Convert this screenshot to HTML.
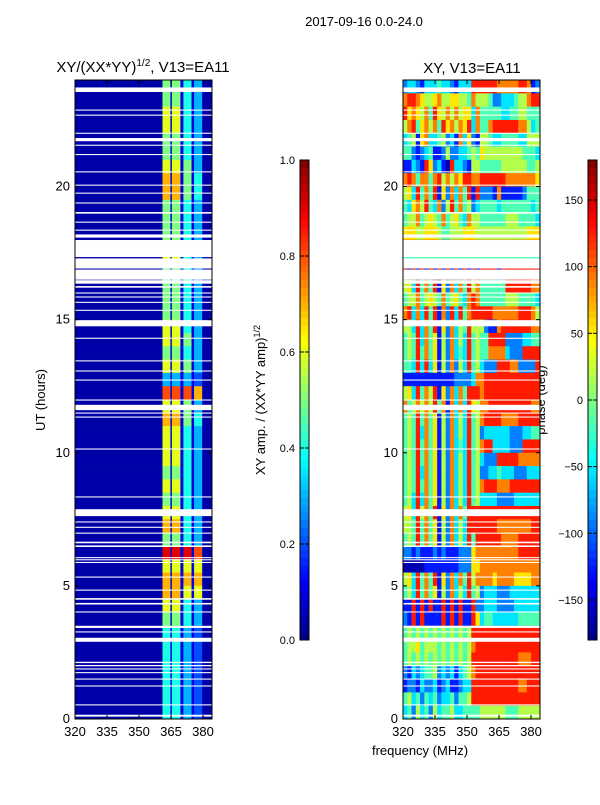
<!DOCTYPE html>
<html><head><meta charset="utf-8"><style>
body{margin:0;background:#fff;}
svg text{font-family:"Liberation Sans","DejaVu Sans",sans-serif;fill:#000;}
</style></head><body>
<svg id="fig" width="600" height="800" xmlns="http://www.w3.org/2000/svg">
<rect width="600" height="800" fill="#fff"/>
<text x="364" y="26" font-size="13" text-anchor="middle">2017-09-16 0.0-24.0</text>
<text x="143" y="72" font-size="15" text-anchor="middle">XY/(XX*YY)<tspan font-size="10" dy="-6">1/2</tspan><tspan dy="6">, V13=EA11</tspan></text>
<text x="472" y="73" font-size="15" text-anchor="middle">XY, V13=EA11</text>
<text x="420" y="755" font-size="13" text-anchor="middle">frequency (MHz)</text>
<text transform="translate(45,400) rotate(-90)" font-size="13" text-anchor="middle">UT (hours)</text>
<text transform="translate(265,400) rotate(-90)" font-size="13" text-anchor="middle">XY amp. / (XX*YY amp)<tspan font-size="9" dy="-5">1/2</tspan></text>
<text transform="translate(545,400) rotate(-90)" font-size="13" text-anchor="middle">phase (deg)</text>
<g id="layer"></g>
</svg>
<script>
// ---- data ----
const hourTicks=[0,5,10,15,20];
const freqTicks=[320,335,350,365,380];
const ampTicks=[0.0,0.2,0.4,0.6,0.8,1.0];
const phaseTicks=[-150,-100,-50,0,50,100,150];
// left panel frequency bin edges (MHz)
const ampBinEdges=[320,361,364.7,365.4,369.4,370.8,374.6,375.8,379.6,384.2];
// amplitude rows, top (23.5-24h) to bottom (0-0.5h); digit d -> d/10
const ampRows=["051514130","051514130","061614130","061614130","051514130","051514130","061615130","071715140","071715140","051514130","051514130","051514130","061614130","061614130","051514130","051514130","051514130","051514130","061614130","061615130","051514130","061615130","031313120","081818170","061615130","071715140","061614130","061614130","061614130","051514130","061614130","051514130","061614130","071714130","051514130","091919180","061616160","071717170","071716160","061614130","051514130","041413120","041413120","041413120","041413120","041413120","041413120","041413120"];
// phase rows, 2 MHz bins from 320 to 384, top to bottom; digit d -> phase bin
const phaseRows=["23321333433213338888887777788712","78876556755665547555422333455788","86765748657575663744444334455444","57846757486757683744788888877534","34516733452317362155433444433555","44212341125223345465555555554443","11321862310833215544444555555445","78747747857576887788888877777776","56384748162737481822217111112444","43675843725847452344443444444434","45574565474564375544444455544443","66655666544555666555555555555666","88888888888888888888888888888888","44444444444444444444444444444444","81818181818181818188881888888888","56384748162737485744444488888877","45574565474564378744444455544443","78373848172838478888877777788875","55383748162735485552117888888877","45483746152735384544888822223344","45484746152734384544777732228888","44383836152725384532228887722228","11111111111122223778888888888888","56384758162737488878888888888888","74575758471737386577888888888877","45484746152735384578888777788888","45483746152735384523333332223344","45484746152734384578833332228888","45484746152735384532228888877777","45483746152735384522334333222333","45484746152735384578887778888888","45383746152735384533332222333333","56385748162737488888888888888888","55484746152735388888887777777788","45484746152735384888888777788888","22121112121112226777777777788888","00000111111112226677777777777777","56384748162737485777767777666677","45384746152735384523332223333333","11818181181818118223332222333333","21818111181818118634433333344444","45454545454545458888888888888888","45564555454545457888888888888888","45454545454545458888888888877788","21323445232313457888888888888888","12213223123112338888888888877888","45342434233424458888888888888888","34253425344533444455555544455555"];
// flagged (white) intervals in hours: [start,end]
const flagged=[[23.55,23.72],[22.85,22.89],[22.66,22.7],[21.98,22.02],[21.7,21.82],[21.53,21.57],[21.18,21.22],[20.53,20.57],[20.03,20.07],[19.73,19.77],[19.36,19.4],[18.98,19.04],[18.64,18.68],[18.34,18.38],[18.08,18.2],[17.35,17.99],[16.92,17.3],[16.5,16.88],[16.35,16.48],[16.2,16.26],[15.98,16.02],[15.83,15.87],[15.63,15.67],[15.33,15.37],[14.75,14.98],[14.28,14.32],[13.43,13.47],[13.05,13.09],[12.71,12.75],[11.96,12.0],[11.6,11.8],[11.47,11.51],[11.32,11.36],[10.12,10.16],[8.32,8.36],[7.62,7.88],[7.38,7.42],[7.18,7.22],[6.96,7.0],[6.46,6.52],[6.6,6.66],[5.86,5.9],[5.96,6.0],[6.04,6.08],[5.31,5.35],[4.82,4.86],[4.3,4.36],[4.48,4.54],[4.0,4.04],[3.42,3.5],[3.25,3.29],[2.9,3.05],[2.1,2.15],[1.98,2.03],[1.86,1.9],[1.72,1.76],[1.48,1.52],[1.22,1.26],[0.51,0.55],[0.09,0.16]];

// ---- geometry ----
const NS="http://www.w3.org/2000/svg";
const layer=document.getElementById('layer');
const T=80,B=719,FMIN=320,FMAX=384.2,HMAX=24;
const panels=[{x0:75,x1:212},{x0:403,x1:540}];
function yOf(h){return B-(h/HMAX)*(B-T);}
function xOf(p,f){return p.x0+(f-FMIN)/(FMAX-FMIN)*(p.x1-p.x0);}
function jet(v){const c=t=>Math.round(255*Math.max(0,Math.min(1,t)));
 return `rgb(${c(1.5-Math.abs(4*v-3))},${c(1.5-Math.abs(4*v-2))},${c(1.5-Math.abs(4*v-1))})`;}
function mk(tag,attrs,parent){const e=document.createElementNS(NS,tag);for(const k in attrs)e.setAttribute(k,attrs[k]);(parent||layer).appendChild(e);return e;}
function ampVal(d){return d===0?0.04:d/10;}
function phaseVal(d){return (d+0.5)/10;}

// left heatmap
const gL=mk('g',{});


ampRows.forEach((row,i)=>{
 const hTop=HMAX-0.5*i,hBot=hTop-0.5;
 for(let c=0;c<row.length;c++){
  const xa=xOf(panels[0],ampBinEdges[c]),xb=xOf(panels[0],ampBinEdges[c+1]);
  const r=mk('rect',{x:xa,y:yOf(hTop),width:xb-xa+0.3,height:yOf(hBot)-yOf(hTop)+0.3,fill:jet(ampVal(+row[c]))},gL);
  
  
 }
});
// right heatmap
const gR=mk('g',{});


phaseRows.forEach((row,i)=>{
 const hTop=HMAX-0.5*i,hBot=hTop-0.5;
 for(let c=0;c<row.length;c++){
  const fa=FMIN+2*c,fb=Math.min(FMAX,fa+2);
  const xa=xOf(panels[1],fa),xb=xOf(panels[1],fb);
  const r=mk('rect',{x:xa,y:yOf(hTop),width:xb-xa+0.3,height:yOf(hBot)-yOf(hTop)+0.3,fill:jet(phaseVal(+row[c]))},gR);
  
  
 }
});
// flagged white lines
panels.forEach(p=>{
 flagged.forEach(([a,b])=>{
  const r=mk('rect',{x:p.x0,y:yOf(b),width:p.x1-p.x0,height:Math.max(1,yOf(a)-yOf(b)),fill:'#fff'});
  
  
 });
});
// axes
panels.forEach((p,pi)=>{
 const fr=mk('rect',{x:p.x0,y:T,width:p.x1-p.x0,height:B-T,fill:'none',stroke:'#000','stroke-width':1});
 
 
 hourTicks.forEach(h=>{const y=yOf(h);
  mk('line',{x1:p.x0,x2:p.x0+4,y1:y,y2:y,stroke:'#000'});
  mk('line',{x1:p.x1,x2:p.x1-4,y1:y,y2:y,stroke:'#000'});
  const t=mk('text',{x:p.x0-5,y:y+4,'font-size':13,'text-anchor':'end'});t.textContent=h;
  
  
 });
 freqTicks.forEach(f=>{const x=xOf(p,f);
  mk('line',{x1:x,x2:x,y1:B,y2:B-4,stroke:'#000'});
  mk('line',{x1:x,x2:x,y1:T,y2:T+4,stroke:'#000'});
  const t=mk('text',{x:x,y:B+17,'font-size':13,'text-anchor':'middle'});t.textContent=f;
  
  
 });
});
// colorbars
function colorbar(x,name,ticks,vmin,vmax,fmt){
 const g=mk('g',{});
 
 
 const top=160,bot=640,w=9,n=64;
 for(let i=0;i<n;i++){
  mk('rect',{x:x,y:bot-(i+1)*(bot-top)/n,width:w,height:(bot-top)/n+0.4,fill:jet((i+0.5)/n)},g);}
 mk('rect',{x:x,y:top,width:w,height:bot-top,fill:'none',stroke:'#000'},g);
 ticks.forEach(v=>{const y=bot-(v-vmin)/(vmax-vmin)*(bot-top);
  mk('line',{x1:x,x2:x+4,y1:y,y2:y,stroke:'#000'},g);
  mk('line',{x1:x+w,x2:x+w-4,y1:y,y2:y,stroke:'#000'},g);
  const t=mk('text',{x:x-5,y:y+4,'font-size':11,'text-anchor':'end'},g);t.textContent=fmt(v);
  
  
 });
}
colorbar(300,'amp-colorbar',ampTicks,0,1,v=>v.toFixed(1));
colorbar(588,'phase-colorbar',phaseTicks,-180,180,v=>v<0?'\u2212'+(-v):''+v);
</script>
</body></html>
